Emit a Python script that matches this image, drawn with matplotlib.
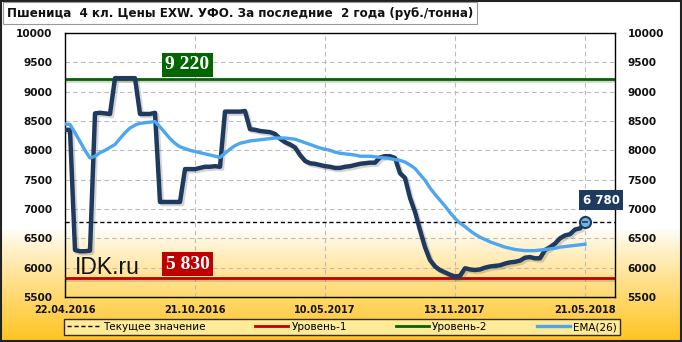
import numpy as np
import matplotlib
matplotlib.use("Agg")
import matplotlib.pyplot as plt
import matplotlib.patheffects as pe
from matplotlib.patches import Rectangle
from matplotlib.lines import Line2D

# weekly prices, 22.04.2016 .. 21.05.2018 (rub/t)
price = [8350, 8350, 6300, 6280, 6280, 6290, 8630, 8640, 8630, 8620,
         9230, 9230, 9230, 9230, 9230, 8620, 8620, 8620, 8640, 7120,
         7120, 7120, 7120, 7120, 7680, 7680, 7680, 7700, 7720, 7720,
         7730, 7720, 8660, 8660, 8660, 8660, 8670, 8360, 8350, 8330,
         8320, 8310, 8280, 8200, 8140, 8100, 8050, 7920, 7820, 7780,
         7770, 7750, 7730, 7720, 7700, 7700, 7720, 7730, 7750, 7770,
         7780, 7790, 7790, 7880, 7900, 7900, 7870, 7610, 7530, 7190,
         6950, 6640, 6350, 6130, 6020, 5960, 5920, 5880, 5850, 5860,
         5990, 5970, 5960, 5970, 6000, 6020, 6030, 6040, 6070, 6090,
         6100, 6120, 6170, 6180, 6160, 6160, 6300, 6350, 6410, 6500,
         6550, 6570, 6650, 6670, 6780]
ema26 = [8450, 8440, 8300, 8150, 8000, 7870, 7900, 7960, 8000, 8050,
         8100, 8200, 8300, 8380, 8430, 8460, 8470, 8480, 8490, 8400,
         8300, 8200, 8120, 8060, 8030, 8000, 7980, 7960, 7940, 7920,
         7900, 7880, 7950, 8020, 8080, 8120, 8140, 8160, 8170, 8180,
         8190, 8200, 8210, 8210, 8210, 8200, 8190, 8160, 8130, 8100,
         8070, 8040, 8020, 8000, 7970, 7950, 7940, 7930, 7920, 7900,
         7900, 7900, 7890, 7880, 7870, 7860, 7840, 7830, 7800, 7750,
         7690, 7590, 7490, 7360, 7250, 7150, 7050, 6940, 6840, 6760,
         6700, 6630, 6570, 6520, 6480, 6440, 6410, 6380, 6350, 6330,
         6310, 6300, 6290, 6290, 6290, 6300, 6310, 6320, 6330, 6350,
         6360, 6370, 6380, 6390, 6400]
date_labels = ["22.04.2016", "21.10.2016", "10.05.2017", "13.11.2017", "21.05.2018"]
level1 = 5830
level2 = 9220
current = price[-1]

navy = '#1F3A5F'
blue = '#4DA6F0'
red = '#C00000'
green = '#006600'

fig = plt.figure(figsize=(6.82, 3.42), dpi=100)

# background gradient: white on top, gold at the bottom
bg = fig.add_axes([0, 0, 1, 1], zorder=-10)
h = 342
rows = np.ones((h, 1, 3))
start = 228
top = np.array([1.0, 1.0, 1.0])
bottom = np.array([1.0, 0.77, 0.13])
for r in range(start, h):
    t = (r - start) / (h - start - 1)
    rows[r, 0] = top + (bottom - top) * t ** 0.85
bg.imshow(rows, aspect='auto', extent=[0, 1, 0, 1])
bg.set_axis_off()
fig.patches.append(Rectangle((0.001, 0.002), 0.997, 0.995, transform=fig.transFigure,
                             fill=False, edgecolor='#222222', linewidth=1.5))

ax = fig.add_axes([65 / 682, 1 - 297 / 342, 550 / 682, 264 / 342])
ax.set_facecolor('none')
x = np.arange(len(price))

shadow = [pe.SimpleLineShadow(offset=(1.5, -1.5), shadow_color='#444444', alpha=0.22), pe.Normal()]

ax.axhline(current, color='black', linestyle=(0, (3, 2)), linewidth=1.0, zorder=2)
ax.axhline(level1, color=red, linewidth=2, zorder=2, path_effects=shadow)
ax.axhline(level2, color=green, linewidth=2, zorder=2, path_effects=shadow)
ax.plot(x, price, color=navy, linewidth=3.2, solid_joinstyle='round', zorder=3, path_effects=shadow)
ax.plot(x, ema26, color=blue, linewidth=2.4, zorder=4)
ax.plot(x[-1], price[-1], 'o', markersize=8, markerfacecolor='#6FB7E0',
        markeredgecolor=navy, markeredgewidth=1.5, zorder=5)
ax.plot(x[-1], price[-1], '_', markersize=5, color=navy, markeredgewidth=1.2, zorder=6)

ax.set_xlim(0, 110)
ax.set_ylim(5500, 10000)
ax.set_yticks(np.arange(5500, 10001, 500))
ax.set_xticks([0, 26, 52, 78, 104])
ax.set_xticklabels(date_labels)
ax.grid(True, color='#BBBBBB', linestyle=(0, (4, 3)), linewidth=0.8)
ax.set_axisbelow(True)
ax.tick_params(axis='y', length=0, pad=9, labelsize=7.6, labelright=True, colors='#111111')
ax.tick_params(axis='x', length=0, pad=6, labelsize=7, colors='#111111')
for lab in ax.get_xticklabels():
    lab.set_fontweight('bold')
for t in ax.yaxis.get_major_ticks():
    t.label1.set_fontweight('bold')
    t.label2.set_fontweight('bold')
for s in ax.spines.values():
    s.set_color('black')
    s.set_linewidth(1.0)

# value labels
box_kw = dict(boxstyle='square,pad=0.18', linewidth=0)
ax.text(24.5, level2 + 240, '9 220', color='white', fontsize=14, fontweight='bold',
        family='Liberation Serif', ha='center', va='center',
        bbox=dict(facecolor=green, **box_kw), zorder=7)
ax.text(24.5, level1 + 230, '5 830', color='white', fontsize=14, fontweight='bold',
        family='Liberation Serif', ha='center', va='center',
        bbox=dict(facecolor=red, **box_kw), zorder=7)
ax.text(107.2, current + 370, '6 780', color='white', fontsize=8.5, fontweight='bold',
        ha='center', va='center', zorder=7,
        bbox=dict(facecolor=navy, boxstyle='square,pad=0.3', linewidth=0))
ax.text(2, 5900, 'IDK.ru', fontsize=16.5, family='Liberation Sans', color='#111111',
        ha='left', va='baseline', zorder=7)

# title box
fig.text(7 / 682, 1 - 13 / 342, 'Пшеница  4 кл. Цены EXW. УФО. За последние  2 года (руб./тонна)',
         fontsize=8.6, fontweight='bold', color='#111111', ha='left', va='center',
         bbox=dict(boxstyle='square,pad=0.35', facecolor='white', edgecolor='#999999', linewidth=0.8))

handles = [Line2D([], [], color='black', linestyle=(0, (3, 2)), linewidth=1.0),
           Line2D([], [], color=red, linewidth=2),
           Line2D([], [], color=green, linewidth=2),
           Line2D([], [], color=blue, linewidth=2.4)]
labels = ['Текущее значение', 'Уровень-1', 'Уровень-2', 'EMA(26)']
leg = fig.legend(handles, labels, loc='center', ncol=4,
                 bbox_to_anchor=(342 / 682, 1 - 327 / 342), fontsize=7.5,
                 frameon=True, fancybox=False, handlelength=3.2, handletextpad=0.3,
                 columnspacing=4.7, borderpad=0.3, borderaxespad=0)
leg.get_frame().set_facecolor('#FFF3B0')
leg.get_frame().set_edgecolor('black')
leg.get_frame().set_linewidth(1.0)

fig.savefig('out.png', dpi=100)
